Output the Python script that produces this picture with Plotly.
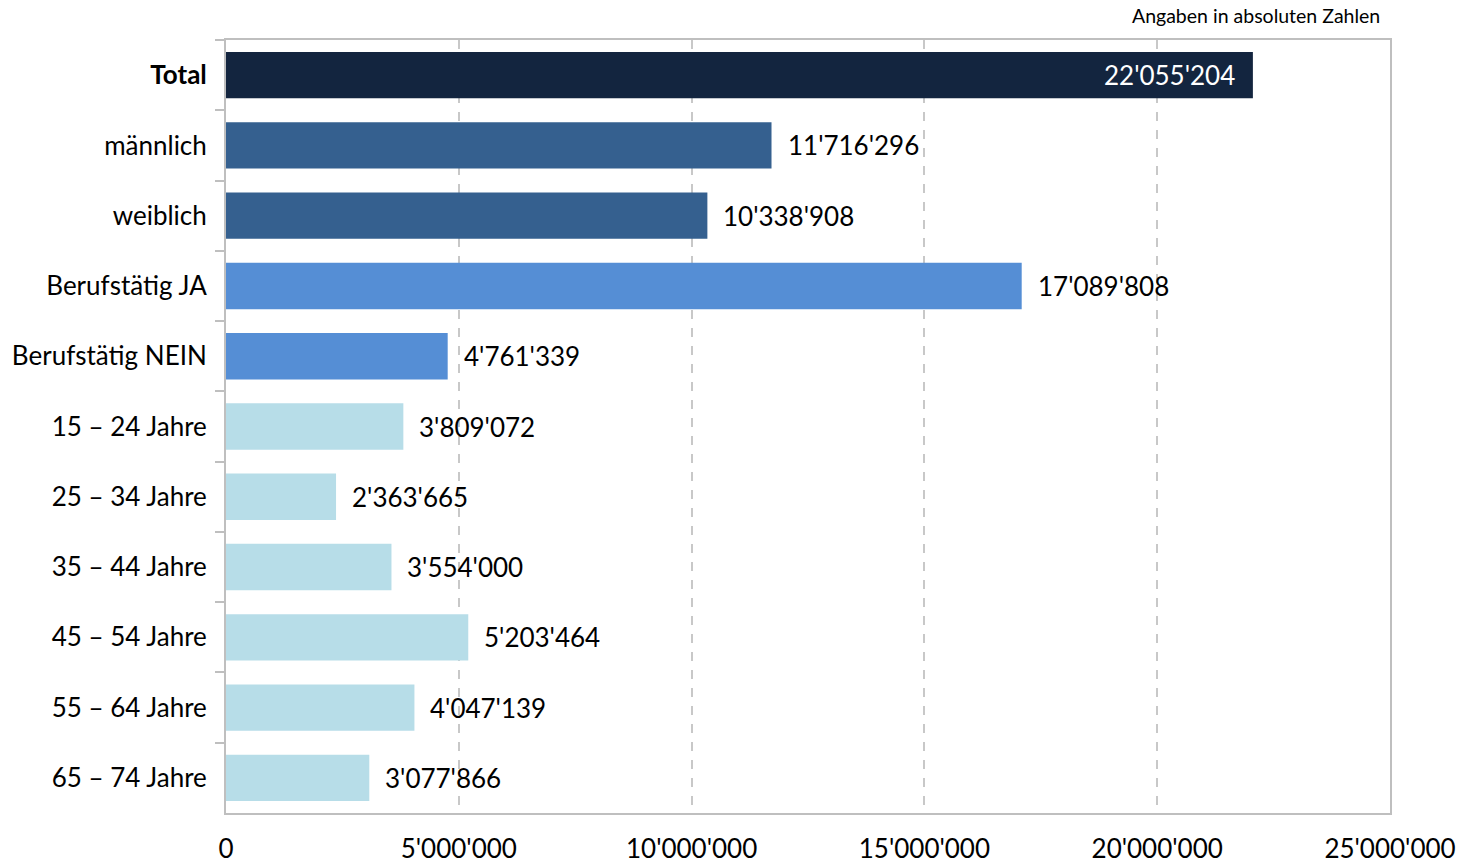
import plotly.graph_objects as go

# Categories (top to bottom) and their counts
categories = [
    "<b>Total</b>", "männlich", "weiblich", "Berufstätig JA", "Berufstätig NEIN",
    "15 – 24 Jahre", "25 – 34 Jahre", "35 – 44 Jahre", "45 – 54 Jahre",
    "55 – 64 Jahre", "65 – 74 Jahre",
]
values = [22055204, 11716296, 10338908, 17089808, 4761339,
          3809072, 2363665, 3554000, 5203464, 4047139, 3077866]
colors = ["#13253F", "#35608F", "#35608F", "#558ED5", "#558ED5",
          "#B7DDE8", "#B7DDE8", "#B7DDE8", "#B7DDE8", "#B7DDE8", "#B7DDE8"]

FONT = "Lato"
SIZE = 26


def fmt(v):
    return f"{v:,}".replace(",", "'")


fig = go.Figure(
    go.Bar(
        x=values,
        y=categories,
        orientation="h",
        marker=dict(color=colors, line=dict(width=0)),
        width=0.66,
        hoverinfo="x+y",
    )
)

# Value labels: the first bar carries its label inside, the rest outside
for i, (cat, v) in enumerate(zip(categories, values)):
    if i == 0:
        fig.add_annotation(x=v, y=cat, text=fmt(v), showarrow=False,
                           xanchor="right", xshift=-16,
                           font=dict(family=FONT, size=SIZE, color="white"))
    else:
        fig.add_annotation(x=v, y=cat, text=fmt(v), showarrow=False,
                           xanchor="left", xshift=14,
                           font=dict(family=FONT, size=SIZE, color="black"))

fig.add_annotation(xref="x domain", yref="paper", x=1.0, y=1.0,
                   xanchor="right", yanchor="bottom", xshift=-8, yshift=11,
                   text="Angaben in absoluten Zahlen", showarrow=False,
                   font=dict(family=FONT, size=19.5, color="black"))

fig.update_layout(
    width=1473,
    height=866,
    margin=dict(l=226, r=83, t=40, b=53),
    paper_bgcolor="white",
    plot_bgcolor="white",
    separators=".'",
    showlegend=False,
    font=dict(family=FONT, size=SIZE, color="black"),
    xaxis=dict(
        range=[0, 25000000],
        dtick=5000000,
        tick0=0,
        tickformat=",",
        showgrid=True,
        gridcolor="#C8C8C8",
        griddash="dash",
        gridwidth=1.5,
        zeroline=False,
        showline=True,
        linecolor="#BFBFBF",
        linewidth=2,
        mirror=True,
        ticks="",
        ticklabelstandoff=12,
        automargin=False,
        tickfont=dict(family=FONT, size=SIZE, color="black"),
        fixedrange=True,
    ),
    yaxis=dict(
        autorange="reversed",
        automargin=False,
        showline=True,
        linecolor="#BFBFBF",
        linewidth=2,
        mirror=True,
        ticks="outside",
        tickson="boundaries",
        ticklen=9,
        tickcolor="#BFBFBF",
        tickwidth=2,
        ticklabelstandoff=12,
        tickfont=dict(family=FONT, size=SIZE, color="black"),
        showgrid=False,
        fixedrange=True,
    ),
)

fig.write_html("out.html")
